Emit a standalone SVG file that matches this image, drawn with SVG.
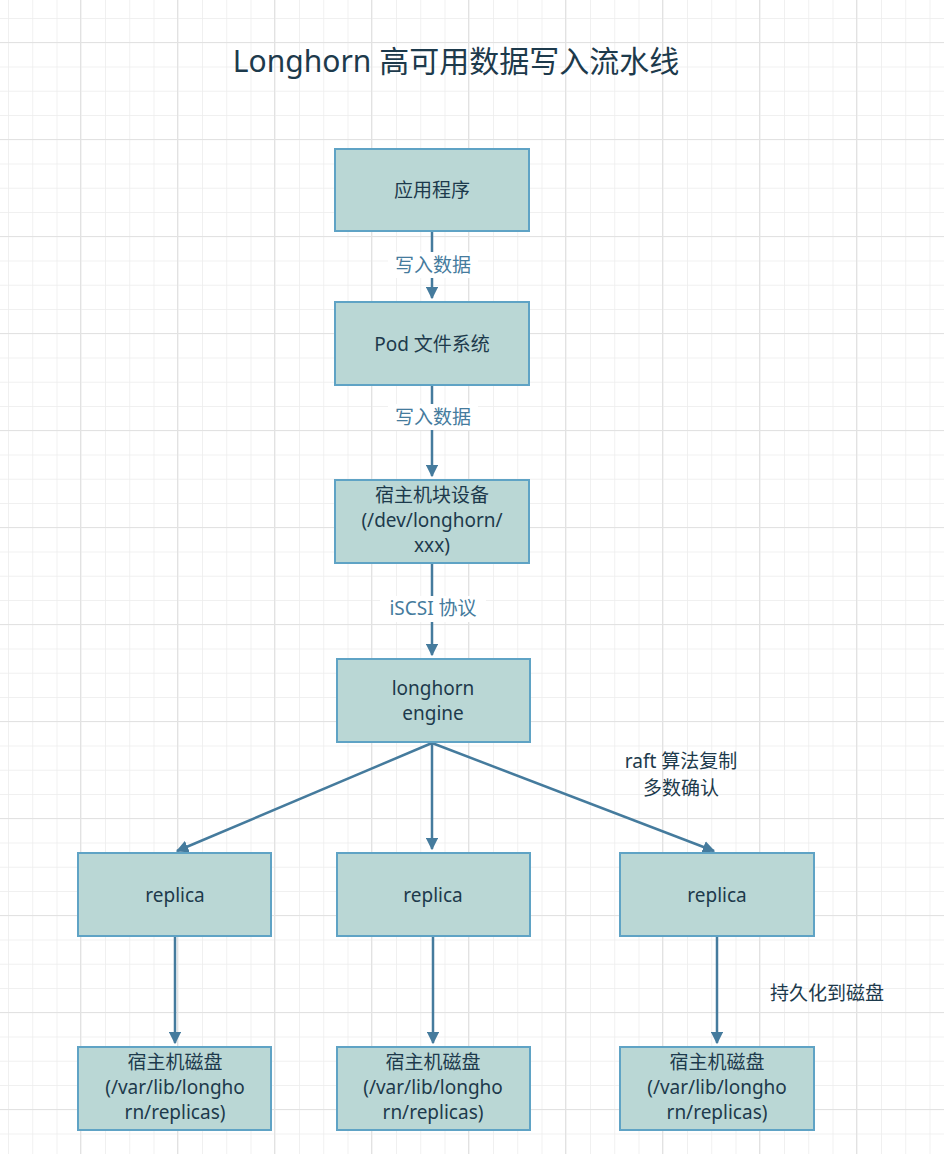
<svg xmlns="http://www.w3.org/2000/svg" width="944" height="1154" viewBox="0 0 944 1154">
<defs>
<pattern id="minor" x="8" y="18" width="24.25" height="24.25" patternUnits="userSpaceOnUse"><path d="M0 0H24.25M0 0V24.25" fill="none" stroke="#ececec" stroke-width="1.5"/></pattern>
<pattern id="major" x="80" y="42" width="97" height="97" patternUnits="userSpaceOnUse"><path d="M0 0H97M0 0V97" fill="none" stroke="#e2e2e2" stroke-width="2"/></pattern>
<marker id="ar" viewBox="0 0 10 10" refX="9" refY="5" markerWidth="5" markerHeight="5" markerUnits="strokeWidth" orient="auto"><path d="M0 0L10 5L0 10z" fill="#457b9d"/></marker>
</defs>
<style>
.n{fill:#bad7d5;stroke:#5fa3c5;stroke-width:2}
.t{font-family:"Noto Sans","Noto Sans CJK SC",sans-serif;font-size:19px;fill:#1d3a4c;text-anchor:middle}
.e{stroke:#457b9d;stroke-width:2.5;fill:none;marker-end:url(#ar)}
.l{font-family:"Noto Sans","Noto Sans CJK SC",sans-serif;font-size:19px;fill:#457b9d;text-anchor:middle}
.lb{fill:#fff}
</style>
<rect width="944" height="1154" fill="#fff"/>
<rect width="944" height="1154" fill="url(#minor)"/>
<rect width="944" height="1154" fill="url(#major)"/>
<text x="456" y="72" font-family="'Noto Sans','Noto Sans CJK SC',sans-serif" font-size="30" fill="#1d3a4c" text-anchor="middle">Longhorn 高可用数据写入流水线</text>
<g id="edges">
<path class="e" d="M432 232V298"/>
<path class="e" d="M432 386V476"/>
<path class="e" d="M432 564V655"/>
<path class="e" d="M432 743L177 851"/>
<path class="e" d="M432 743V849"/>
<path class="e" d="M432 743L714 851"/>
<path class="e" d="M175 937V1043"/>
<path class="e" d="M433 937V1043"/>
<path class="e" d="M717 937V1043"/>
<rect class="lb" x="388" y="252" width="90" height="26"/>
<text class="l" x="433" y="272">写入数据</text>
<rect class="lb" x="388" y="404" width="90" height="26"/>
<text class="l" x="433" y="424">写入数据</text>
<rect class="lb" x="380" y="596" width="106" height="26"/>
<text class="l" x="433" y="615">iSCSI 协议</text>
<text class="t" x="681" y="768">raft 算法复制</text>
<text class="t" x="681" y="795">多数确认</text>
<text class="t" x="827" y="1000">持久化到磁盘</text>
</g>
<g id="app"><rect class="n" x="335" y="149" width="194" height="82"/><text class="t" x="432" y="197">应用程序</text></g>
<g id="pod"><rect class="n" x="335" y="302" width="194" height="83"/><text class="t" x="432" y="351">Pod 文件系统</text></g>
<g id="blk"><rect class="n" x="335" y="480" width="194" height="83"/><text class="t" x="432" y="502">宿主机块设备</text><text class="t" x="432" y="527">(/dev/longhorn/</text><text class="t" x="432" y="552">xxx)</text></g>
<g id="engine"><rect class="n" x="337" y="659" width="193" height="83"/><text class="t" x="433" y="695">longhorn</text><text class="t" x="433" y="720">engine</text></g>
<g id="r1"><rect class="n" x="78" y="853" width="193" height="83"/><text class="t" x="175" y="902">replica</text></g>
<g id="r2"><rect class="n" x="337" y="853" width="193" height="83"/><text class="t" x="433" y="902">replica</text></g>
<g id="r3"><rect class="n" x="620" y="853" width="194" height="83"/><text class="t" x="717" y="902">replica</text></g>
<g id="d1"><rect class="n" x="78" y="1047" width="193" height="83"/><text class="t" x="175" y="1069">宿主机磁盘</text><text class="t" x="175" y="1094">(/var/lib/longho</text><text class="t" x="175" y="1119">rn/replicas)</text></g>
<g id="d2"><rect class="n" x="337" y="1047" width="193" height="83"/><text class="t" x="433" y="1069">宿主机磁盘</text><text class="t" x="433" y="1094">(/var/lib/longho</text><text class="t" x="433" y="1119">rn/replicas)</text></g>
<g id="d3"><rect class="n" x="620" y="1047" width="194" height="83"/><text class="t" x="717" y="1069">宿主机磁盘</text><text class="t" x="717" y="1094">(/var/lib/longho</text><text class="t" x="717" y="1119">rn/replicas)</text></g>
</svg>
